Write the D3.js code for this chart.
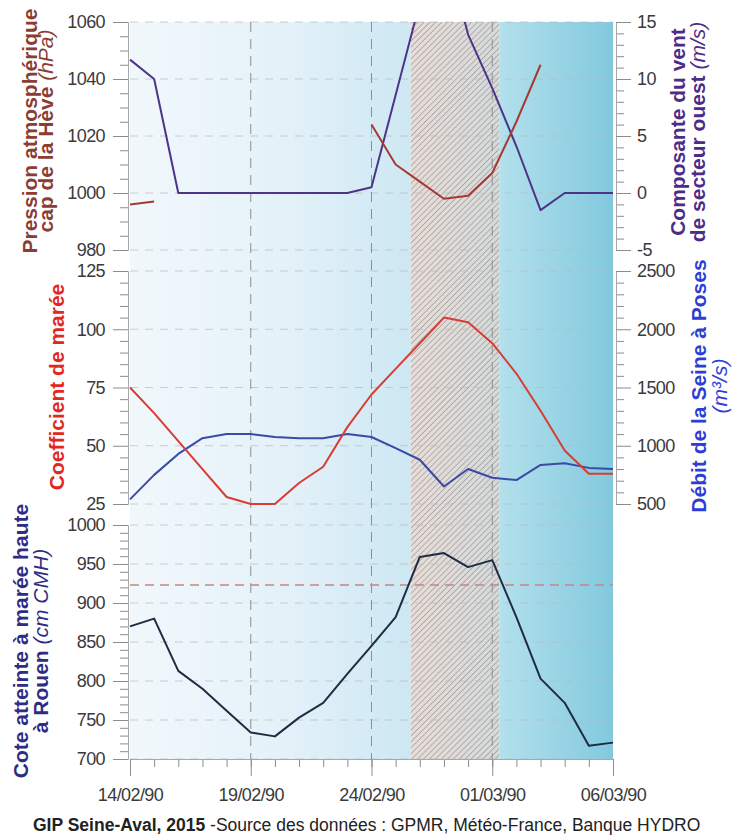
<!DOCTYPE html>
<html>
<head>
<meta charset="utf-8">
<script src="https://cdn.jsdelivr.net/npm/d3@7"></script>
<style>
  body { margin: 0; background: #fff; }
  text { font-family: "Liberation Sans", Arial, sans-serif; }
</style>
</head>
<body>
<div id="chart"></div>
<script>
// Daily dates of the event (x categories)
const dates = [
    "14/02/90", "15/02/90", "16/02/90", "17/02/90", "18/02/90", "19/02/90", "20/02/90",
    "21/02/90", "22/02/90", "23/02/90", "24/02/90", "25/02/90", "26/02/90", "27/02/90",
    "28/02/90", "01/03/90", "02/03/90", "03/03/90", "04/03/90", "05/03/90", "06/03/90"
];
const dateTicks = ["14/02/90", "19/02/90", "24/02/90", "01/03/90", "06/03/90"];

// Top panel
const pressure = [996, 997, null, null, null, null, null, null, null, null,
    1024, 1010, 1004, 998, 999, 1007, 1025, 1045, null, null, null];
const wind = [11.7, 10, 0, 0, 0, 0, 0, 0, 0, 0,
    0.5, 8.6, 16.7, 22, 13.9, 9.2, 4.1, -1.5, 0, 0, 0];

// Middle panel
const tideCoef = [75, 64, 52, 40, 28, 25, 25, 34, 41, 58, 72, 83, 94, 105, 103, 94, 81, 65, 48, 38, 38];
const discharge = [540, 750, 930, 1065, 1100, 1100, 1075, 1065, 1065, 1100,
    1075, 980, 880, 650, 800, 725, 705, 835, 850, 810, 800];

// Bottom panel
const waterLevel = [870, 880, 813, 790, 762, 734, 729, 753, 772, 809, 845,
    882, 959, 964, 946, 955, 882, 803, 772, 717, 721];
const levelThreshold = 923;

// Periods drawn in the background
const stormPeriod = ["25/02/90 15:00", "01/03/90 07:00"];

// Axis ticks
const pressureTicks = [980, 1000, 1020, 1040, 1060];
const windTicks = [-5, 0, 5, 10, 15];
const coefTicks = [25, 50, 75, 100, 125];
const dischargeTicks = [500, 1000, 1500, 2000, 2500];
const levelTicks = [700, 750, 800, 850, 900, 950, 1000];

const parseDay = d3.timeParse("%d/%m/%y");
const parseHour = d3.timeParse("%d/%m/%y %H:%M");
const days = dates.map(parseDay);

const width = 741, height = 835;
const left = 130, right = 613;

const svg = d3.select("#chart")
    .append("svg")
    .attr("width", width)
    .attr("height", height);

const x = d3.scaleTime()
    .domain([days[0], days[days.length - 1]])
    .range([left, right]);

// panel scales
const yP = d3.scaleLinear().domain([980, 1060]).range([250, 22]);
const yW = d3.scaleLinear().domain([-5, 15]).range([250, 22]);
const yT = d3.scaleLinear().domain([25, 125]).range([504, 271]);
const yQ = d3.scaleLinear().domain([500, 2500]).range([504, 271]);
const yC = d3.scaleLinear().domain([700, 1000]).range([759, 525]);

const defs = svg.append("defs");

const bgLeft = defs.append("linearGradient").attr("id", "bgLeft");
bgLeft.append("stop").attr("offset", "0%").attr("stop-color", "#f1f8fc");
bgLeft.append("stop").attr("offset", "55%").attr("stop-color", "#e4f1f9");
bgLeft.append("stop").attr("offset", "100%").attr("stop-color", "#cde8f3");

const bgRight = defs.append("linearGradient").attr("id", "bgRight");
bgRight.append("stop").attr("offset", "0%").attr("stop-color", "#b3e0ec");
bgRight.append("stop").attr("offset", "100%").attr("stop-color", "#82c9de");

const hatchBg = defs.append("linearGradient").attr("id", "hatchBg");
hatchBg.append("stop").attr("offset", "0%").attr("stop-color", "#e8ddd7");
hatchBg.append("stop").attr("offset", "100%").attr("stop-color", "#d5dadb");

const hatch = defs.append("pattern")
    .attr("id", "hatch")
    .attr("patternUnits", "userSpaceOnUse")
    .attr("width", 4.2)
    .attr("height", 4.2)
    .attr("patternTransform", "rotate(45)");
hatch.append("line")
    .attr("x1", 0).attr("y1", 0).attr("x2", 0).attr("y2", 4.2)
    .attr("stroke", "#929090")
    .attr("stroke-width", 1.2);

const x0 = x(parseHour(stormPeriod[0]));
const x1 = x(parseHour(stormPeriod[1]));

// background areas
svg.append("rect").attr("x", left).attr("y", 22)
    .attr("width", x0 - left).attr("height", 759 - 22)
    .attr("fill", "url(#bgLeft)");
svg.append("rect").attr("x", x1).attr("y", 22)
    .attr("width", right - x1).attr("height", 759 - 22)
    .attr("fill", "url(#bgRight)");
svg.append("rect").attr("x", x0).attr("y", 22)
    .attr("width", x1 - x0).attr("height", 759 - 22)
    .attr("fill", "url(#hatchBg)");
svg.append("rect").attr("x", x0).attr("y", 22)
    .attr("width", x1 - x0).attr("height", 759 - 22)
    .attr("fill", "url(#hatch)");

// horizontal grid lines
function hGrid(scale, ticks) {
    svg.append("g").selectAll("line")
        .data(ticks)
        .enter()
        .append("line")
        .attr("x1", left).attr("x2", right)
        .attr("y1", d => scale(d)).attr("y2", d => scale(d))
        .attr("stroke", "#b9b9b9")
        .attr("stroke-opacity", 0.7)
        .attr("stroke-dasharray", "8,7");
}
hGrid(yP, pressureTicks);
hGrid(yT, coefTicks);
hGrid(yC, levelTicks);

// vertical dashed lines at the labelled dates
svg.append("g").selectAll("line")
    .data(dateTicks.slice(1, -1))
    .enter()
    .append("line")
    .attr("x1", d => x(parseDay(d))).attr("x2", d => x(parseDay(d)))
    .attr("y1", 22).attr("y2", 759)
    .attr("stroke", "#8e8e8e")
    .attr("stroke-dasharray", "10,7");

// threshold line
svg.append("line")
    .attr("x1", left).attr("x2", right)
    .attr("y1", yC(levelThreshold)).attr("y2", yC(levelThreshold))
    .attr("stroke", "#c98484")
    .attr("stroke-width", 1.5)
    .attr("stroke-dasharray", "9,6");

// clip paths per panel
function clip(id, y0, y1) {
    defs.append("clipPath").attr("id", id)
        .append("rect")
        .attr("x", left - 2).attr("y", y0)
        .attr("width", right - left + 4).attr("height", y1 - y0);
}
clip("clipTop", 22, 252);
clip("clipMid", 269, 507);
clip("clipBot", 523, 761);

function drawLine(values, scale, color, clipId) {
    const line = d3.line()
        .defined(d => d[1] != null)
        .x(d => x(d[0]))
        .y(d => scale(d[1]));
    svg.append("path")
        .datum(days.map((d, i) => [d, values[i]]))
        .attr("d", line)
        .attr("fill", "none")
        .attr("stroke", color)
        .attr("stroke-width", 2)
        .attr("stroke-linejoin", "round")
        .attr("clip-path", `url(#${clipId})`);
}
drawLine(wind, yW, "#4e3388", "clipTop");
drawLine(pressure, yP, "#a63a32", "clipTop");
drawLine(discharge, yQ, "#3a4aa6", "clipMid");
drawLine(tideCoef, yT, "#d83c32", "clipMid");
drawLine(waterLevel, yC, "#1f2b42", "clipBot");

// axes
function minorTicks(ticks, n) {
    const out = [];
    for (let i = 0; i < ticks.length - 1; i++) {
        const step = (ticks[i + 1] - ticks[i]) / n;
        for (let k = 1; k < n; k++) out.push(ticks[i] + k * step);
    }
    return out;
}

function styleAxis(g) {
    g.selectAll(".domain").attr("stroke", "#a8a8a8");
    g.selectAll(".tick line").attr("stroke", "#8c8c8c");
    g.selectAll("text")
        .style("font-size", "18px")
        .style("letter-spacing", "-0.6px")
        .attr("fill", "#3a3a3a");
}

function yAxis(scale, ticks, n, side) {
    const xPos = side === "left" ? 128 : 616;
    const make = side === "left" ? d3.axisLeft : d3.axisRight;
    svg.append("g")
        .attr("transform", `translate(${xPos},0)`)
        .call(make(scale).tickValues(minorTicks(ticks, n)).tickSize(8).tickSizeOuter(0).tickFormat(""))
        .call(styleAxis);
    svg.append("g")
        .attr("transform", `translate(${xPos},0)`)
        .call(make(scale).tickValues(ticks).tickSizeInner(15).tickSizeOuter(0)
            .tickPadding(side === "left" ? 8 : 6)
            .tickFormat(d => String(d)))
        .call(styleAxis);
}
yAxis(yP, pressureTicks, 4, "left");
yAxis(yW, windTicks, 5, "right");
yAxis(yT, coefTicks, 5, "left");
yAxis(yQ, dischargeTicks, 5, "right");
yAxis(yC, levelTicks, 5, "left");

// bottom axis
svg.append("g")
    .attr("transform", "translate(0,759)")
    .call(d3.axisBottom(x).tickValues(days).tickSize(8).tickSizeOuter(0).tickFormat(""))
    .call(styleAxis);
svg.append("g")
    .attr("transform", "translate(0,759)")
    .call(d3.axisBottom(x).tickValues(dateTicks.map(parseDay)).tickSizeInner(17).tickSizeOuter(0)
        .tickPadding(12)
        .tickFormat(d3.timeFormat("%d/%m/%y")))
    .call(styleAxis);

// axis titles (rotated)
function title(lines, cy) {
    lines.forEach(l => {
        const t = svg.append("text")
            .attr("transform", `translate(${l.x},${cy}) rotate(-90)`)
            .attr("text-anchor", "middle")
            .style("font-size", "21px");
        l.parts.forEach(p => {
            t.append("tspan")
                .text(p.text)
                .attr("fill", p.color)
                .style("font-weight", p.italic ? "normal" : "bold")
                .style("font-style", p.italic ? "italic" : "normal");
        });
    });
}

const cPress = "#8a3d33", cWind = "#4d2c88", cCoef = "#e3271f", cFlow = "#2c3ed4", cLevel = "#2d2d84";

title([
    { x: 37, parts: [{ text: "Pression atmosphérique", color: cPress }] },
    { x: 53, parts: [{ text: "cap de la Hève ", color: cPress }, { text: "(hPa)", color: cPress, italic: true }] }
], 131);
title([
    { x: 64, parts: [{ text: "Coefficient de marée", color: cCoef }] }
], 387);
title([
    { x: 28, parts: [{ text: "Cote atteinte à marée haute", color: cLevel }] },
    { x: 48, parts: [{ text: "à Rouen ", color: cLevel }, { text: "(cm CMH)", color: cLevel, italic: true }] }
], 641);
title([
    { x: 685, parts: [{ text: "Composante du vent", color: cWind }] },
    { x: 705, parts: [{ text: "de secteur ouest ", color: cWind }, { text: "(m/s)", color: cWind, italic: true }] }
], 132);
title([
    { x: 706, parts: [{ text: "Débit de la Seine à Poses", color: cFlow }] },
    { x: 727, parts: [{ text: "(m³/s)", color: cFlow, italic: true }] }
], 386);

// source line
const src = svg.append("text")
    .attr("x", 33)
    .attr("y", 831)
    .style("font-size", "17.5px")
    .attr("fill", "#222");
src.append("tspan").text("GIP Seine-Aval, 2015").style("font-weight", "bold");
src.append("tspan").text(" -Source des données : GPMR, Météo-France, Banque HYDRO");
</script>
</body>
</html>
